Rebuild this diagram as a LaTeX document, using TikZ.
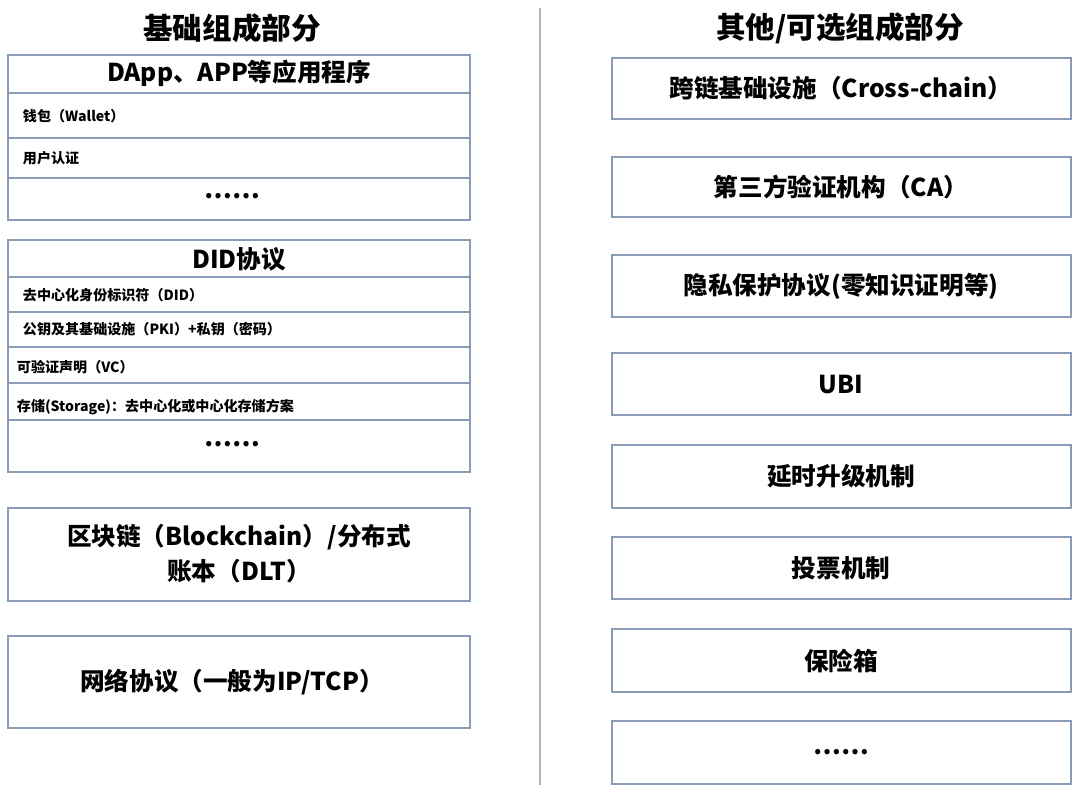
\documentclass[tikz,border=0pt]{standalone}
\usepackage{fontspec}
\setmainfont{Liberation Serif}
\newfontfamily\cjk{Noto Sans CJK SC}
\usetikzlibrary{positioning}
\definecolor{edge}{HTML}{8A9BB5}
\begin{document}
\begin{tikzpicture}[x=0.025cm, y=-0.025cm,
                    box/.style={draw=edge, line width=0.9pt},
                    head/.style={font=\cjk\bfseries\fontsize{21}{24}\selectfont},
                    big/.style={font=\cjk\bfseries\fontsize{17.5}{25}\selectfont, align=center},
                    row/.style={font=\cjk\bfseries\fontsize{10}{12}\selectfont, anchor=west}
                    ]
    \useasboundingbox (0,0) rectangle (1080,792);
    % divider
    \draw[gray!60, line width=0.8pt] (540,8) -- (540,785);
    % left column
    \node (lhead) [head] at (232,28) {基础组成部分};
    \draw[box] (8,55) rectangle (470,220);
    \foreach \y in {93,138,178} \draw[box] (8,\y) -- (470,\y);
    \node (app) [big] at (239,73) {DApp、APP等应用程序};
    \node (wallet) [row] at (18,116) {钱包（Wallet）};
    \node (auth) [row] at (18,158) {用户认证};
    \node (appdots) [big] at (232,196) {……};
    \draw[box] (8,240) rectangle (470,472);
    \foreach \y in {277,312,347,383,420} \draw[box] (8,\y) -- (470,\y);
    \node (did) [big] at (239,259) {DID协议};
    \node (ident) [row] at (18,295) {去中心化身份标识符（DID）};
    \node (pki) [row] at (18,329) {公钥及其基础设施（PKI）+私钥（密码）};
    \node (vc) [row] at (12,367) {可验证声明（VC）};
    \node (store) [row] at (12,407) {存储(Storage)：去中心化或中心化存储方案};
    \node (diddots) [big] at (232,444) {……};
    \draw[box] (8,508) rectangle (470,601);
    \node (chain) [big] at (239,554) {区块链（Blockchain）/分布式\\账本（DLT）};
    \draw[box] (8,636) rectangle (470,728);
    \node (net) [big] at (232,682) {网络协议（一般为IP/TCP）};
    % right column
    \node (rhead) [head] at (840,28) {其他/可选组成部分};
    \foreach \t/\b/\txt [count=\i] in {58/119/跨链基础设施（Cross-chain）,
        157/217/第三方验证机构（CA）,
        255/317/隐私保护协议(零知识证明等),
        353/415/UBI,
        445/508/延时升级机制,
        537/599/投票机制,
        629/692/保险箱,
        721/784/……}
    {
      \draw[box] (612,\t) rectangle (1071,\b);
      \node (opt\i) [big] at (841,{(\t+\b)/2}) {\txt};
    }
\end{tikzpicture}
\end{document}
